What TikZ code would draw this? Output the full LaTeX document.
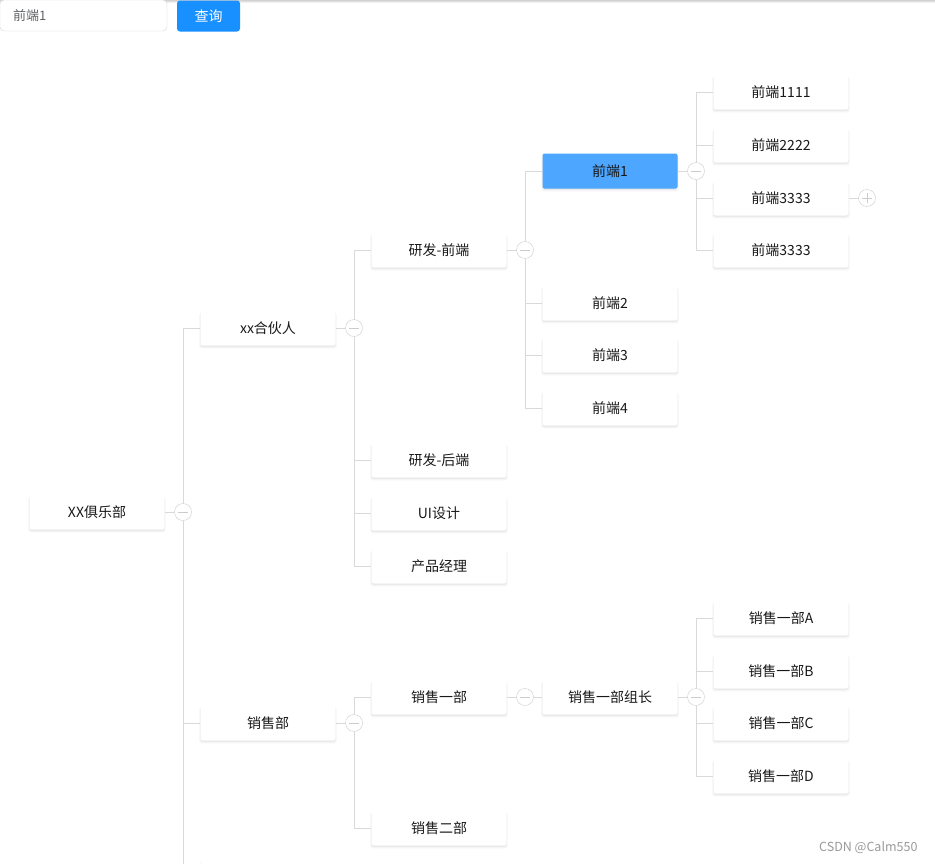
\documentclass[tikz,border=0pt]{standalone}
\usepackage{fontspec}
\setmainfont{Noto Sans CJK SC}
\usepackage{tikz}
\usetikzlibrary{shadows, calc}
\definecolor{wiregray}{HTML}{D9D9D9}
\definecolor{togglegray}{HTML}{CCCCCC}
\definecolor{hitblue}{HTML}{4DA6FF}
\definecolor{btnblue}{HTML}{1890FF}
\definecolor{inputgray}{HTML}{D4D7DE}
\definecolor{hintgray}{HTML}{606266}
\definecolor{markgray}{HTML}{9A9A9A}

\begin{document}
\begin{tikzpicture}[x=1pt, y=-1pt, font=\fontsize{14}{16}\selectfont,
  card/.style={fill=white, text=black!90, rounded corners=2pt, minimum width=135pt,
    minimum height=35pt, inner sep=0pt,
    general shadow={fill=black, opacity=0.04, shadow xshift=0pt, shadow yshift=-2.5pt,
      shadow scale=1.015},
    general shadow={fill=black, opacity=0.07, shadow xshift=0pt, shadow yshift=-1pt}},
  toggle/.style={circle, draw=togglegray, fill=white, minimum size=17pt, inner sep=0pt,
    path picture={\draw[togglegray] ($(path picture bounding box.center)+(-5pt,0)$)
      -- ($(path picture bounding box.center)+(5pt,0)$);}},
  plus/.style={path picture={\draw[togglegray] ($(path picture bounding box.center)+(-5pt,0)$)
      -- ($(path picture bounding box.center)+(5pt,0)$)
      ($(path picture bounding box.center)+(0,-5pt)$)
      -- ($(path picture bounding box.center)+(0,5pt)$);}},
  wire/.style={draw=wiregray, line width=1pt}]
  \useasboundingbox (0,0) rectangle (935,863);
  \clip (0,0) rectangle (935,863);
  \fill[white] (0,0) rectangle (935,863);
  \shade[top color=black!18, bottom color=white] (0,0) rectangle (935,3);

  \node[draw=inputgray, fill=white, rounded corners=4pt, text=hintgray,
    font=\fontsize{13}{15}\selectfont, text width=141pt, inner xsep=13pt,
    minimum height=31pt, align=left] (query) at (83.5,15.5) {前端1};
  \node[fill=btnblue, text=white, rounded corners=3pt, minimum width=63pt,
    minimum height=31pt, inner sep=0pt] (search) at (208.5,16) {查询};

  \foreach \n/\cx/\cy/\lab in {club/97/512/XX俱乐部, partner/268/328/xx合伙人,
      sales/268/723/销售部, more/268/878/{}, fe/439/250/研发-前端, be/439/460/研发-后端,
      ui/439/513/UI设计, pm/439/566/产品经理, sa/439/697/销售一部, sb/439/828/销售二部,
      fe2/610/303/前端2, fe3/610/355/前端3, fe4/610/408/前端4, lead/610/697/销售一部组长,
      x1/781/92/前端1111, x2/781/145/前端2222, x3/781/198/前端3333, x4/781/250/前端3333,
      sa1/781/618/销售一部A, sa2/781/671/销售一部B, sa3/781/723/销售一部C, sa4/781/776/销售一部D}
    \node[card] (\n) at (\cx,\cy) {\lab};
  \node[card, fill=hitblue] (fe1) at (610,171) {前端1};

  \foreach \n/\cx/\cy in {t0/183/512, t1/354/328, t2/354/723, t3/525/250,
      t4/525/697, t5/696/171, t6/696/697}
    \node[toggle] (\n) at (\cx,\cy) {};
  \node[toggle, plus] (t7) at (867,198) {};

  \foreach \a/\b in {club/t0, partner/t1, sales/t2, fe/t3, sa/t4, t4/lead, fe1/t5, lead/t6, x3/t7}
    \draw[wire] (\a.east) -- (\b.west);
  \foreach \t/\c in {t0/partner, t1/fe, t3/fe1, t5/x1, t5/x2, t2/sa, t6/sa1, t6/sa2}
    \draw[wire] (\t.north) |- (\c.west);
  \foreach \t/\c in {t0/sales, t0/more, t1/be, t1/ui, t1/pm, t3/fe2, t3/fe3, t3/fe4,
      t5/x3, t5/x4, t2/sb, t6/sa3, t6/sa4}
    \draw[wire] (\t.south) |- (\c.west);

  \node[text=markgray, font=\fontsize{12.5}{14}\selectfont, anchor=east] (mark) at (921,848) {CSDN @Calm550};
\end{tikzpicture}
\end{document}
